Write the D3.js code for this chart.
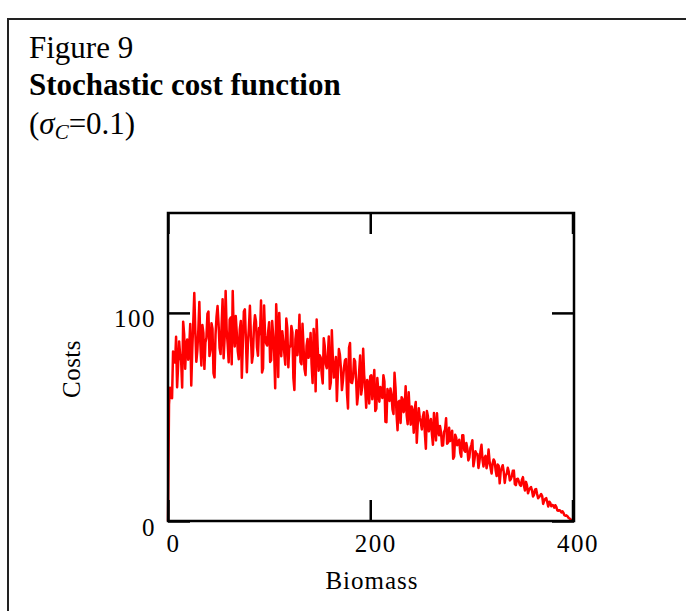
<!DOCTYPE html>
<html>
<head>
<meta charset="utf-8">
<script src="https://cdn.jsdelivr.net/npm/d3@7"></script>
<style>
  html, body { margin: 0; padding: 0; background: #fff; }
  svg { display: block; }
  text { font-family: "Liberation Serif", "Times New Roman", serif; fill: #000; }
</style>
</head>
<body>
<svg id="chart" width="686" height="611"></svg>
<script>
// ---- data ----
// costs at even biomass values 0,2,...,400
const costsEven = [
  0, 64.0, 59.0, 79.4, 88.5, 74.6, 79.9, 64.2, 89.6, 84.8,
  77.5, 94.7, 82.2, 109.5, 76.5, 91.8, 85.1, 94.2, 73.1, 88.0,
  100.6, 82.2, 92.4, 69.0, 98.2, 94.9, 80.2, 106.6, 88.0, 91.9,
  76.3, 97.8, 110.5, 83.9, 90.5, 77.7, 96.1, 85.3, 101.7, 71.5,
  92.8, 88.8, 79.9, 98.9, 83.4, 92.7, 105.9, 73.3, 89.3, 84.3,
  95.5, 77.3, 89.4, 63.8, 91.8, 100.0, 79.2, 86.5, 75.1, 92.5,
  84.0, 93.7, 68.6, 87.4, 79.7, 99.1, 75.3, 83.9, 70.1, 87.5,
  80.9, 75.2, 92.3, 62.3, 83.6, 79.7, 70.6, 87.8, 75.4, 78.9,
  63.5, 91.6, 68.9, 78.8, 71.0, 79.9, 62.9, 73.6, 77.8, 54.1,
  85.5, 66.3, 77.9, 68.2, 60.9, 79.5, 64.2, 70.1, 54.4, 66.0,
  69.6, 58.5, 72.5, 54.0, 62.3, 64.4, 59.1, 67.0, 47.5, 61.2,
  63.7, 53.6, 71.2, 51.3, 57.4, 47.1, 58.6, 53.8, 50.9, 61.9,
  46.3, 52.3, 53.7, 37.6, 54.2, 47.5, 50.0, 42.2, 52.8, 43.1,
  49.0, 36.6, 45.2, 51.8, 41.2, 42.5, 36.4, 43.9, 37.1, 44.8,
  40.7, 29.9, 41.5, 36.4, 39.0, 30.9, 41.2, 33.3, 34.9, 30.6,
  36.6, 26.3, 33.5, 32.2, 28.6, 36.6, 26.2, 31.3, 27.9, 28.8,
  22.8, 29.6, 24.4, 27.1, 18.1, 25.6, 23.7, 22.0, 25.6, 19.5,
  21.5, 24.2, 17.2, 20.3, 17.4, 19.8, 16.9, 18.8, 13.3, 15.7,
  14.5, 12.7, 15.4, 10.9, 12.2, 12.0, 9.8, 11.0, 7.0, 8.7,
  7.7, 6.4, 6.8, 4.9, 4.9, 4.7, 2.8, 2.7, 1.6, 0.8,
  0
];
// costs at odd biomass values 1,3,...,399
const costsOdd = [
  56, 59.3, 81.4, 76.1, 64.3, 86.3, 76.9, 95.8, 73.2, 87.2,
  84.2, 65.1, 95.5, 91.4, 81.7, 105.2, 74.7, 90.4, 85.8, 99.6,
  79.3, 95.0, 71.0, 89.5, 103.3, 83.1, 93.9, 78.2, 110.5, 85.1,
  96.8, 75.3, 90.9, 98.5, 81.7, 92.2, 68.8, 100.7, 88.0, 85.1,
  103.4, 76.1, 93.3, 95.9, 79.4, 89.8, 71.4, 103.6, 85.4, 90.8,
  76.4, 96.1, 80.8, 104.1, 69.2, 86.8, 91.2, 80.8, 97.3, 73.9,
  83.8, 90.7, 62.9, 91.7, 84.9, 76.4, 94.8, 73.0, 84.1, 78.4,
  90.3, 66.3, 84.2, 96.8, 72.2, 78.6, 66.1, 84.1, 73.4, 88.6,
  66.5, 78.2, 72.7, 57.7, 82.6, 73.4, 67.5, 77.2, 61.3, 83.3,
  66.6, 69.1, 76.8, 56.0, 71.7, 60.8, 82.8, 64.1, 67.8, 56.5,
  70.0, 65.2, 52.9, 68.7, 57.3, 62.0, 70.0, 47.7, 63.4, 57.7,
  60.9, 51.4, 64.0, 43.6, 57.7, 59.5, 52.3, 64.7, 46.5, 52.3,
  55.0, 42.4, 57.2, 47.0, 49.5, 44.0, 52.3, 34.7, 50.4, 46.8,
  41.7, 51.9, 38.7, 43.4, 45.6, 36.2, 42.9, 49.4, 37.7, 38.4,
  43.4, 31.0, 40.0, 36.9, 32.7, 41.2, 33.9, 37.5, 29.1, 35.1,
  38.8, 29.3, 32.2, 25.5, 33.6, 29.4, 30.4, 25.4, 34.3, 25.5,
  27.6, 28.7, 21.6, 26.5, 23.8, 26.8, 18.3, 22.7, 23.6, 20.1,
  24.1, 17.7, 20.1, 18.9, 16.9, 21.1, 14.7, 17.1, 15.0, 16.3,
  11.8, 15.1, 13.0, 11.5, 13.0, 8.2, 10.6, 9.1, 9.3, 7.1,
  7.5, 7.6, 5.1, 5.2, 4.1, 4.0, 2.5, 2.3, 1.25, 0.4
];
const xTicks = [0, 200, 400];
const yTicks = [0, 100];
const xDomain = [0, 400];
const yDomain = [0, 148];
const titleLine1 = "Figure 9";
const titleLine2 = "Stochastic cost function";
const xLabel = "Biomass";
const yLabel = "Costs";

// merge even and odd samples in biomass order
const data = [];
costsEven.forEach((c, i) => {
  data.push({ b: 2 * i, c });
  if (i < costsOdd.length) data.push({ b: 2 * i + 1, c: costsOdd[i] });
});

// ---- layout ----
const svg = d3.select("#chart");
const pLeft = 168, pRight = 572.5, pTop = 213, pBottom = 521;
const x = d3.scaleLinear().domain(xDomain).range([pLeft, pRight]);
const y = d3.scaleLinear().domain(yDomain).range([pBottom, pTop]);
const frameRight = pRight + 1.5;

svg.append("rect").attr("width", 686).attr("height", 611).attr("fill", "#fff");

// outer figure border
svg.append("rect")
  .attr("x", 8).attr("y", 19).attr("width", 700).attr("height", 640)
  .attr("fill", "none").attr("stroke", "#222").attr("stroke-width", 2);

// titles
svg.append("text").attr("x", 29).attr("y", 58)
  .style("font-size", "31px").text(titleLine1);
svg.append("text").attr("x", 29).attr("y", 95)
  .style("font-size", "31px").style("font-weight", "bold").text(titleLine2);
const t3 = svg.append("text").attr("x", 29).attr("y", 134).style("font-size", "31px");
t3.append("tspan").text("(");
t3.append("tspan").style("font-style", "italic").text("σ");
t3.append("tspan").style("font-style", "italic").style("font-size", "21px").attr("dy", 5).text("C");
t3.append("tspan").attr("dy", -5).text("=0.1)");

// data line
const line = d3.line().x(d => x(d.b)).y(d => y(d.c));
svg.append("path").datum(data)
  .attr("d", line)
  .attr("fill", "none")
  .attr("stroke", "#ff0000")
  .attr("stroke-width", 2.5)
  .attr("stroke-linejoin", "round");

// axes (inward ticks)
function styleAxis(g) {
  g.select(".domain").remove();
  g.selectAll(".tick line").attr("stroke", "#000").attr("stroke-width", 2.5);
  g.selectAll(".tick text")
    .style("font-size", "25px")
    .style("letter-spacing", "1.5px")
    .style("font-family", "'Liberation Serif', serif")
    .attr("fill", "#000");
}

const gB = svg.append("g").attr("transform", `translate(0,${pBottom})`)
  .call(d3.axisBottom(x).tickValues(xTicks).tickSize(-21).tickSizeOuter(0).tickPadding(13).tickFormat(d3.format("d")));
styleAxis(gB);
gB.selectAll(".tick text").attr("x", 5);

const gT = svg.append("g").attr("transform", `translate(0,${pTop})`)
  .call(d3.axisTop(x).tickValues(xTicks).tickSize(-21).tickSizeOuter(0).tickFormat(""));
styleAxis(gT);

const gL = svg.append("g").attr("transform", `translate(${pLeft},0)`)
  .call(d3.axisLeft(y).tickValues(yTicks).tickSize(-22).tickSizeOuter(0).tickPadding(12).tickFormat(d3.format("d")));
styleAxis(gL);
gL.selectAll(".tick text").attr("dy", "0.56em");

const gR = svg.append("g").attr("transform", `translate(${frameRight},0)`)
  .call(d3.axisRight(y).tickValues(yTicks).tickSize(-22).tickSizeOuter(0).tickFormat(""));
styleAxis(gR);

// plot frame
svg.append("rect")
  .attr("x", pLeft).attr("y", pTop)
  .attr("width", frameRight - pLeft).attr("height", pBottom - pTop)
  .attr("fill", "none").attr("stroke", "#000").attr("stroke-width", 2.5);

// axis titles
svg.append("text")
  .attr("x", (pLeft + frameRight) / 2 + 1).attr("y", 589)
  .attr("text-anchor", "middle")
  .style("font-size", "25px").style("letter-spacing", "1px")
  .text(xLabel);
svg.append("text")
  .attr("transform", `translate(80,369) rotate(-90)`)
  .attr("text-anchor", "middle")
  .style("font-size", "25px").style("letter-spacing", "0.5px")
  .text(yLabel);
</script>
</body>
</html>
